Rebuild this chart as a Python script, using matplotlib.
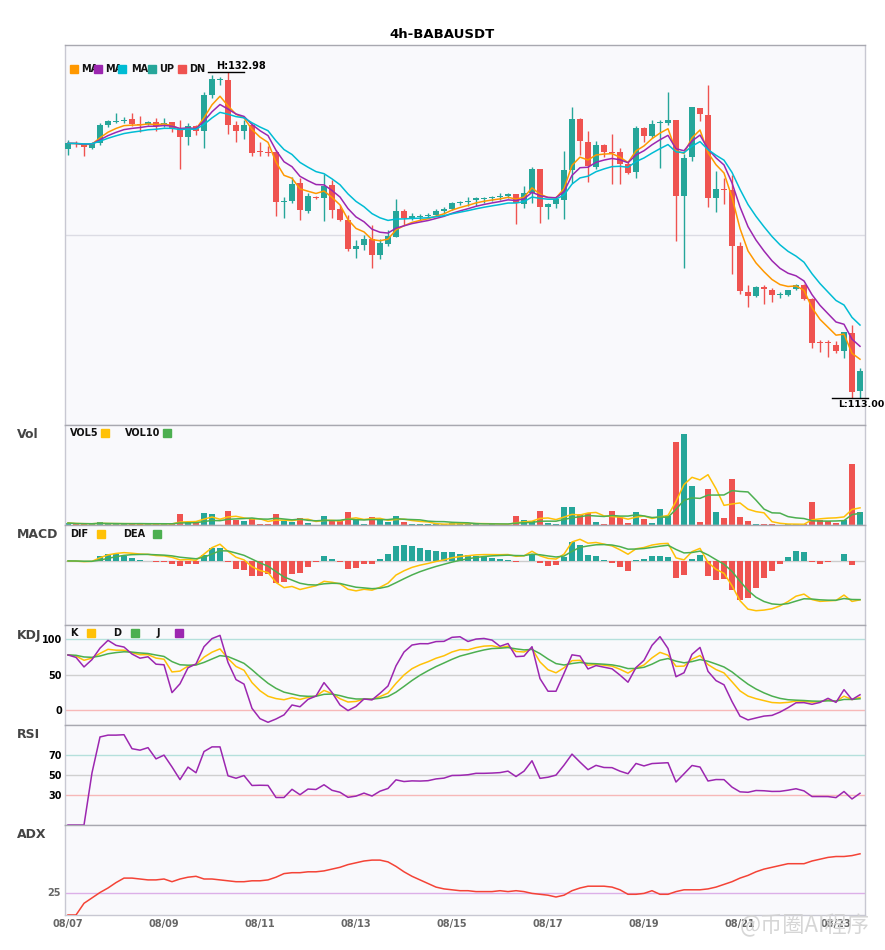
import numpy as np
import pandas as pd
import matplotlib
matplotlib.use("Agg")
import matplotlib.pyplot as plt
from matplotlib.patches import Rectangle

plt.rcParams['font.family'] = ['DejaVu Sans', 'Noto Sans CJK SC']

SYMBOL = "BABAUSDT"
INTERVAL = "4h"
START = "2024-08-07 00:00"

# 4h candles
opens = [128.24, 128.61, 128.57, 128.30, 128.65, 129.73, 129.94, 130.00, 130.10, 129.79,
         129.79, 129.92, 129.77, 129.92, 129.53, 129.01, 129.67, 129.38, 131.57, 132.52,
         132.49, 129.73, 129.38, 129.73, 128.09, 128.08, 128.08, 124.99, 125.07, 126.16,
         124.46, 125.30, 125.28, 126.05, 124.57, 123.91, 122.15, 122.38, 122.76, 121.76,
         122.44, 122.89, 124.46, 124.05, 124.09, 124.15, 124.21, 124.48, 124.56, 124.95,
         125.03, 125.12, 125.22, 125.26, 125.30, 125.40, 125.50, 124.91, 125.54, 127.02,
         124.72, 124.91, 125.14, 126.97, 130.12, 128.69, 127.18, 128.51, 128.08, 128.06,
         127.32, 126.83, 129.57, 129.06, 129.87, 129.87, 130.04, 125.40, 127.79, 130.76,
         130.35, 125.28, 125.81, 125.75, 122.31, 119.48, 119.25, 119.80, 119.60, 119.29,
         119.31, 119.66, 119.93, 119.07, 116.43, 116.41, 116.25, 115.88, 116.96, 113.43]
highs = [128.81, 128.73, 128.61, 128.67, 129.87, 130.04, 130.45, 130.20, 130.49, 130.28,
         129.98, 130.14, 130.14, 129.92, 130.04, 129.87, 129.73, 131.77, 132.80, 132.69,
         132.98, 129.98, 130.04, 129.83, 128.71, 128.44, 128.20, 125.34, 126.53, 126.46,
         125.58, 125.38, 126.73, 126.36, 124.83, 124.21, 122.68, 122.99, 123.60, 122.73,
         123.30, 125.18, 124.58, 124.32, 124.28, 124.32, 124.56, 124.69, 125.03, 125.07,
         125.34, 125.34, 125.34, 125.40, 125.58, 125.54, 125.50, 125.99, 127.14, 127.02,
         124.97, 125.36, 128.14, 130.84, 130.18, 129.36, 128.75, 128.55, 129.16, 128.34,
         127.45, 129.67, 129.63, 130.04, 130.04, 131.77, 130.04, 127.94, 130.84, 130.76,
         132.18, 126.91, 126.46, 126.67, 122.58, 119.93, 119.86, 119.93, 119.72, 119.51,
         119.62, 119.97, 119.97, 119.15, 116.55, 116.55, 116.49, 117.06, 117.47, 114.82]
lows = [127.91, 128.36, 127.83, 128.24, 128.52, 129.63, 129.84, 129.84, 129.67, 129.32,
        129.73, 129.38, 129.63, 129.32, 127.02, 128.51, 129.12, 128.34, 131.40, 132.18,
        129.18, 128.71, 128.87, 127.83, 127.83, 127.83, 124.17, 124.01, 124.93, 123.91,
        124.36, 125.18, 123.85, 124.01, 123.87, 122.03, 121.60, 122.07, 120.95, 121.52,
        122.33, 122.85, 123.60, 123.91, 123.91, 124.05, 124.17, 124.26, 124.52, 124.83,
        124.79, 124.79, 124.97, 125.07, 125.12, 125.27, 123.68, 124.63, 124.93, 123.74,
        123.97, 124.66, 123.95, 126.19, 127.89, 126.26, 127.04, 127.79, 126.10, 126.12,
        126.71, 126.50, 128.71, 128.95, 127.11, 129.73, 122.64, 120.95, 127.53, 129.98,
        124.72, 124.42, 124.87, 120.60, 119.37, 118.59, 119.19, 118.76, 118.90, 119.15,
        119.25, 119.62, 118.99, 116.05, 115.84, 115.53, 115.73, 115.47, 113.00, 113.02]
closes = [128.61, 128.57, 128.40, 128.61, 129.73, 129.98, 129.98, 130.04, 129.79, 129.76,
          129.92, 129.67, 129.87, 129.53, 129.01, 129.67, 129.38, 131.57, 132.55, 132.55,
          129.73, 129.36, 129.73, 128.03, 128.06, 128.03, 125.03, 125.03, 126.11, 124.52,
          125.38, 125.26, 125.99, 124.52, 123.91, 122.13, 122.31, 122.76, 121.76, 122.50,
          122.93, 124.46, 124.05, 124.17, 124.13, 124.19, 124.46, 124.58, 124.97, 124.99,
          125.07, 125.26, 125.26, 125.29, 125.34, 125.50, 124.97, 125.54, 127.02, 124.72,
          124.89, 125.20, 126.97, 130.12, 128.77, 127.24, 128.51, 128.06, 128.03, 127.32,
          126.79, 129.57, 129.06, 129.79, 129.92, 130.04, 125.40, 127.73, 130.84, 130.39,
          125.28, 125.81, 125.77, 122.33, 119.56, 119.27, 119.80, 119.66, 119.31, 119.33,
          119.60, 119.93, 119.07, 116.39, 116.39, 116.37, 115.88, 117.03, 113.39, 114.65]
# volume, thousands
volumes = [2.0, 1.0, 1.0, 1.0, 3.3, 1.0, 0.7, 0.7, 1.0, 2.3,
           1.0, 0.7, 0.7, 0.7, 11.3, 2.7, 2.0, 12.3, 11.3, 0.3,
           14.3, 5.0, 4.3, 6.0, 1.3, 1.3, 11.3, 4.3, 3.3, 7.3,
           2.3, 0.3, 9.3, 4.0, 3.7, 13.3, 5.3, 1.3, 8.3, 5.0,
           3.3, 9.3, 3.3, 1.3, 0.7, 0.7, 0.7, 0.7, 2.0, 2.0,
           1.3, 1.3, 0.3, 1.3, 0.3, 0.3, 8.7, 5.3, 4.3, 14.3,
           2.3, 0.7, 17.7, 17.7, 11.3, 12.3, 3.3, 0.7, 14.3, 8.3,
           2.3, 13.3, 6.3, 2.3, 16.3, 9.3, 82.7, 90.3, 38.3, 3.3,
           35.3, 13.3, 7.3, 45.3, 8.3, 4.3, 1.3, 1.3, 1.3, 0.3,
           0.7, 0.7, 0.7, 23.3, 5.3, 4.0, 2.3, 5.3, 60.3, 13.3]
# ADX line
adx_values = [0, 0, 13, 19, 25, 30, 36, 41, 41, 40,
              39, 39, 40, 37, 40, 42, 43, 40, 40, 39,
              38, 37, 37, 38, 38, 39, 42, 46, 47, 47,
              48, 48, 49, 51, 53, 56, 58, 60, 61, 61,
              59, 54, 48, 43, 39, 35, 31, 29, 28, 27,
              27, 26, 26, 26, 27, 26, 27, 26, 24, 23,
              22, 20, 22, 27, 30, 32, 32, 32, 31, 28,
              23, 23, 24, 27, 23, 23, 26, 28, 28, 28,
              29, 31, 34, 37, 41, 44, 48, 51, 53, 55,
              57, 57, 57, 60, 62, 64, 65, 65, 66, 68]

MA_PERIODS = [5, 8, 13]
MACD_PARAMS = (6, 13, 5)

UP = "#26a69a"
DN = "#ef5350"
MA_COLORS = ["#ff9800", "#9c27b0", "#00bcd4"]
YEL = "#ffc107"
GRN = "#4caf50"
PUR = "#9c27b0"
BG = "#f9f9fc"
SPINE = "#c8c8d2"

W, H = 885, 950


def fx(x):
    return x / W


def fy(y):
    return 1 - y / H


def indicators(df):
    c, h, l = df["close"], df["high"], df["low"]
    out = {}
    for n in MA_PERIODS:
        out["ma%d" % n] = c.ewm(span=n, adjust=False).mean()
    out["vol5"] = df["vol"].rolling(5, min_periods=1).mean()
    out["vol10"] = df["vol"].rolling(10, min_periods=1).mean()
    fast, slow, sig = MACD_PARAMS
    dif = c.ewm(span=fast, adjust=False).mean() - c.ewm(span=slow, adjust=False).mean()
    dea = dif.ewm(span=sig, adjust=False).mean()
    out["dif"], out["dea"], out["hist"] = dif, dea, 2 * (dif - dea)
    lo9 = l.rolling(9, min_periods=1).min()
    hi9 = h.rolling(9, min_periods=1).max()
    rsv = (c - lo9) / (hi9 - lo9) * 100
    k = rsv.ewm(com=2, adjust=False).mean()
    d = k.ewm(com=2, adjust=False).mean()
    out["k"], out["d"], out["j"] = k, d, 3 * k - 2 * d
    delta = c.diff()
    gain = delta.clip(lower=0).ewm(alpha=1 / 14).mean()
    loss = (-delta.clip(upper=0)).ewm(alpha=1 / 14).mean()
    out["rsi"] = (gain / (gain + loss) * 100).fillna(0)
    return out


def legend(items, y):
    # items: (x_text, label, x_square, color), pixel positions
    for xt, label, xs, col in items:
        fig.text(fx(xt), fy(y), label, fontsize=7, fontweight="bold",
                 va="center", ha="left", color="#111111")
        fig.patches.append(Rectangle((fx(xs), fy(y + 4)), 8 / W, 8 / H,
                                     transform=fig.transFigure, color=col,
                                     zorder=5))


def style(ax):
    ax.set_facecolor(BG)
    for s in ax.spines.values():
        s.set_color(SPINE)
        s.set_linewidth(1)
    ax.spines["top"].set_color("#a8a8b0")
    ax.tick_params(length=0, labelbottom=False, labelleft=False)
    ax.set_xlim(-0.375, 99.625)


df = pd.DataFrame({"open": opens, "high": highs, "low": lows,
                   "close": closes, "vol": volumes})
ind = indicators(df)
x = np.arange(len(df))
up = df["close"] >= df["open"]
colors = np.where(up, UP, DN)

fig = plt.figure(figsize=(W / 100, H / 100), dpi=100)
fig.text(0.5, fy(34), "%s-%s" % (INTERVAL, SYMBOL), ha="center", va="center",
         fontsize=9.5, fontweight="bold")

left, width = fx(65), fx(865) - fx(65)
bounds = [(45, 425), (425, 525), (525, 625), (625, 725), (725, 825), (825, 915)]
axes = [fig.add_axes([left, fy(b), width, fy(t) - fy(b)]) for t, b in bounds]
ax_p, ax_v, ax_m, ax_k, ax_r, ax_a = axes
for ax in axes:
    style(ax)

# price
body_lo = np.minimum(df["open"], df["close"])
body_h = np.maximum((df["close"] - df["open"]).abs(), 0.06)
ax_p.vlines(x, df["low"], df["high"], colors=colors, lw=1, zorder=2)
ax_p.bar(x, body_h, bottom=body_lo, width=0.72, color=colors, zorder=3)
for n, col in zip(MA_PERIODS, MA_COLORS):
    ax_p.plot(x, ind["ma%d" % n], color=col, lw=1.1, zorder=4)
hi, lo = df["high"].max(), df["low"].min()
rng = hi - lo
ax_p.set_ylim(lo - 0.083 * rng, hi + 0.083 * rng)
ax_p.axhline((hi + lo) / 2, color="#dcdce4", lw=1, zorder=1)
ih, il = int(df["high"].idxmax()), int(df["low"].idxmin())
ax_p.plot([ih - 2.5, ih + 2], [hi, hi], color="black", lw=1, zorder=6, clip_on=False)
ax_p.text(ih - 1.5, hi + 0.08, "H:%.2f" % hi, fontsize=7, fontweight="bold",
          va="bottom", zorder=6)
ax_p.plot([il - 2.5, il + 2], [lo, lo], color="black", lw=1, zorder=6, clip_on=False)
ax_p.text(il - 1.7, lo - 0.15, "L:%.2f" % lo, fontsize=6.8, fontweight="bold",
          va="top", zorder=6, clip_on=False)
legend([(81, "MA", 70, MA_COLORS[0]), (105, "MA", 94, MA_COLORS[1]),
        (131, "MA", 118, MA_COLORS[2]), (159, "UP", 148, UP), (189, "DN", 178, DN)], 69)

# volume
ax_v.bar(x, df["vol"], width=0.72, color=colors, zorder=2)
ax_v.plot(x, ind["vol5"], color=YEL, lw=1.1, zorder=3)
ax_v.plot(x, ind["vol10"], color=GRN, lw=1.1, zorder=3)
ax_v.set_ylim(0, df["vol"].max() * 1.1)
legend([(70, "VOL5", 101, YEL), (125, "VOL10", 163, GRN)], 433)

# macd
hist = ind["hist"]
ax_m.axhline(0, color="#cccccc", lw=1, zorder=1)
ax_m.bar(x, hist, width=0.72, color=np.where(hist >= 0, UP, DN), zorder=2)
ax_m.plot(x, ind["dif"], color=YEL, lw=1.1, zorder=3)
ax_m.plot(x, ind["dea"], color=GRN, lw=1.1, zorder=3)
ax_m.margins(y=0.2)
ax_m.set_xlim(-0.375, 99.625)
legend([(70, "DIF", 97, YEL), (123, "DEA", 153, GRN)], 534)

# kdj
for lvl, col in [(100, "#b5e0dc"), (50, "#d0d0d0"), (0, "#f7b8b8")]:
    ax_k.axhline(lvl, color=col, lw=1, zorder=1)
ax_k.plot(x, ind["k"], color=YEL, lw=1.1, zorder=3)
ax_k.plot(x, ind["d"], color=GRN, lw=1.1, zorder=3)
ax_k.plot(x, ind["j"], color=PUR, lw=1.1, zorder=3)
ax_k.set_ylim(-21, 120)
ax_k.set_yticks([0, 50, 100])
legend([(70, "K", 87, YEL), (113, "D", 131, GRN), (157, "J", 175, PUR)], 633)

# rsi
for lvl, col in [(70, "#b5e0dc"), (50, "#d0d0d0"), (30, "#f7b8b8")]:
    ax_r.axhline(lvl, color=col, lw=1, zorder=1)
ax_r.plot(x, ind["rsi"], color=PUR, lw=1.1, zorder=3)
ax_r.set_ylim(0, 100)
ax_r.set_yticks([30, 50, 70])

# adx
ax_a.axhline(25, color="#dcb0e8", lw=1, zorder=1)
ax_a.plot(x, adx_values, color="#f44336", lw=1.1, zorder=3)
ax_a.set_ylim(0, 100)
ax_a.set_yticks([25])

for ax in (ax_k, ax_r, ax_a):
    ax.tick_params(labelleft=True, pad=2, labelsize=7)
    for t in ax.get_yticklabels():
        t.set_fontweight("bold")

dates = pd.date_range(START, periods=len(df), freq="4h")
ticks = x[::12]
ax_a.set_xticks(ticks)
ax_a.set_xticklabels([dates[i].strftime("%m/%d") for i in ticks])
ax_a.tick_params(labelbottom=True, labelsize=7, pad=3, labelcolor="#666666")
for t in ax_a.get_xticklabels():
    t.set_fontweight("bold")

for label, y in [("Vol", 435), ("MACD", 535), ("KDJ", 635), ("RSI", 735), ("ADX", 835)]:
    fig.text(fx(17), fy(y), label, fontsize=9, fontweight="bold",
             color="#444444", va="center", ha="left")

# watermark
fig.text(fx(740), fy(926), "@币圈AI程序", fontsize=16, color="#d2d2d2",
         va="center", ha="left", family=["Noto Sans CJK SC", "DejaVu Sans"],
         alpha=0.9, zorder=10)

fig.savefig("out.png", dpi=100)
